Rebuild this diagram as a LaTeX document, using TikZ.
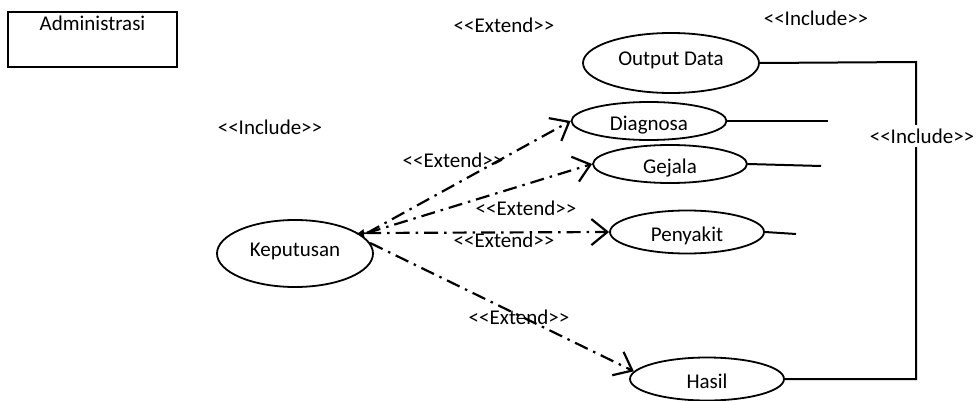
\documentclass[tikz,border=0pt]{standalone}
\usepackage{fontspec}
\setmainfont{Carlito}[Ligatures=TeXOff]
\usetikzlibrary{shapes.geometric,arrows.meta}
\begin{document}
\begin{tikzpicture}[x=1pt,y=-1pt,
  every node/.style={font=\fontsize{21}{25}\selectfont},
  uc/.style={draw,ellipse,line width=1.8pt,inner sep=0pt,text height=19pt,text depth=0pt},
  ext/.style={line width=2.2pt,dash pattern=on 14pt off 6pt on 2.5pt off 6pt,
    -{Straight Barb[length=16pt,width=26pt,line width=2.2pt]}},
  solidline/.style={line width=2pt},
  lbl/.style={inner sep=2pt}]
\useasboundingbox (0,0) rectangle (977,401);

\node[draw,line width=1.8pt,minimum width=169pt,minimum height=55pt,
  label={[anchor=north,yshift=-1pt]north:Administrasi}] (adm) at (92.5,39.5) {};

\node[uc,minimum width=176pt,minimum height=60pt,text height=12pt,text depth=6pt] (od) at (671,63) {Output Data};
\node[uc,minimum width=155pt,minimum height=38pt] (dg) at (649,121) {Diagnosa};
\node[uc,minimum width=154pt,minimum height=38pt] (gj) at (670,164) {Gejala};
\node[uc,minimum width=154pt,minimum height=43pt] (pk) at (687,232) {Penyakit};
\node[uc,minimum width=156pt,minimum height=67pt,text height=12pt,text depth=6pt] (kp) at (295,253.5) {Keputusan};
\node[uc,minimum width=154pt,minimum height=43pt] (hs) at (707,379) {Hasil};

\coordinate (K) at (367,233);
\coordinate (Kt) at (356,234);
\coordinate (c1) at (916,62);
\coordinate (c2) at (916,379);
\coordinate (dge) at (828,121);
\coordinate (gje) at (821,166);
\coordinate (pke) at (796,234);

% extend connectors
\draw[ext] (K) -- (dg.west);
\draw[ext] (K) -- (gj.west);
\draw[ext] (K) -- (pk.west);
\draw[ext] (kp.8) -- (hs.174);
\draw[line width=1.5pt,-{Latex[length=8pt,width=9pt]}] (K) -- (Kt);

% include lines
\draw[solidline] (od.east) -- (c1) -- (c2) -- (hs.east);
\draw[solidline] (dg.east) -- (dge);
\draw[solidline] (gj.east) -- (gje);
\draw[solidline] (pk.east) -- (pke);

% labels
\node[lbl] (l1) at (504,25) {<<Extend>>};
\node[lbl] (l2) at (816,18) {<<Include>>};
\node[lbl] (l3) at (270,127) {<<Include>>};
\node[lbl] (l4) at (453,160) {<<Extend>>};
\node[lbl] (l5) at (526,208) {<<Extend>>};
\node[lbl] (l6) at (504,240) {<<Extend>>};
\node[lbl] (l7) at (519,317) {<<Extend>>};
\node[lbl,fill=white,inner sep=4pt] (l8) at (922,136) {<<Include>>};
\end{tikzpicture}
\end{document}
